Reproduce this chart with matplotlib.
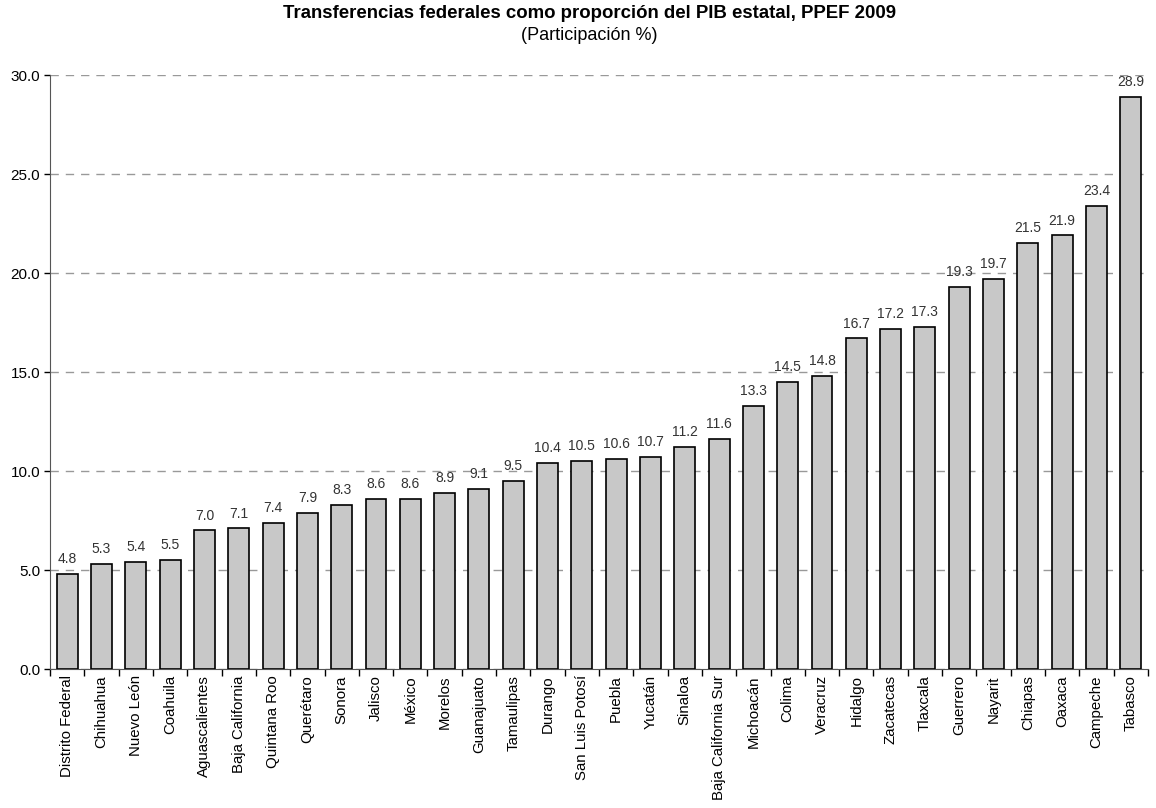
import numpy as np
import matplotlib.pyplot as plt
from matplotlib import font_manager

estados = ['Distrito Federal', 'Chihuahua', 'Nuevo León', 'Coahuila', 'Aguascalientes',
           'Baja California', 'Quintana Roo', 'Querétaro', 'Sonora', 'Jalisco', 'México',
           'Morelos', 'Guanajuato', 'Tamaulipas', 'Durango', 'San Luis Potosí', 'Puebla',
           'Yucatán', 'Sinaloa', 'Baja California Sur', 'Michoacán', 'Colima', 'Veracruz',
           'Hidalgo', 'Zacatecas', 'Tlaxcala', 'Guerrero', 'Nayarit', 'Chiapas', 'Oaxaca',
           'Campeche', 'Tabasco']
valores = [4.8, 5.3, 5.4, 5.5, 7.0, 7.1, 7.4, 7.9, 8.3, 8.6, 8.6, 8.9, 9.1, 9.5, 10.4,
           10.5, 10.6, 10.7, 11.2, 11.6, 13.3, 14.5, 14.8, 16.7, 17.2, 17.3, 19.3, 19.7,
           21.5, 21.9, 23.4, 28.9]

plt.rcParams['font.family'] = ['Liberation Sans', 'DejaVu Sans']

# fuente angosta para las etiquetas de valor si existe
nombres = {f.name for f in font_manager.fontManager.ttflist}
if 'Liberation Sans Narrow' in nombres:
    fuente_val = 'Liberation Sans Narrow'
    tam_val = 11
else:
    fuente_val = 'Liberation Sans'
    tam_val = 10

fig = plt.figure(figsize=(11.56, 8.08), dpi=100)
ax = fig.add_axes([0.0433, 0.172, 0.9497, 0.735])

x = np.arange(len(estados))
ax.bar(x, valores, width=0.61, color='#c8c8c8', edgecolor='black', linewidth=1.2, zorder=3)

for xi, v in zip(x, valores):
    ax.text(xi, v + 0.4, f'{v:.1f}', ha='center', va='bottom', fontsize=tam_val,
            color='#333333', family=fuente_val)

ax.set_xlim(-0.5, len(estados) - 0.5)
ax.set_ylim(0, 30)
ax.set_yticks(np.arange(0, 31, 5))
ax.set_yticklabels([f'{t:.1f}' for t in np.arange(0, 31, 5)], fontsize=11)
ax.yaxis.grid(True, linestyle=(0, (6, 5)), color='#999999', linewidth=1, zorder=0)
ax.tick_params(axis='y', direction='out', length=4, width=1, pad=3)

ax.set_xticks(x)
ax.set_xticklabels(estados, rotation=90, fontsize=10.8)
ax.set_xticks(np.arange(-0.5, len(estados), 1), minor=True)
ax.tick_params(axis='x', which='major', length=0, pad=4.5)
ax.tick_params(axis='x', which='minor', direction='out', length=5, width=1)

for s in ['top', 'right']:
    ax.spines[s].set_visible(False)
ax.spines['left'].set_color('#555555')
ax.spines['bottom'].set_color('#555555')

fig.text(0.51, 0.983, 'Transferencias federales como proporción del PIB estatal, PPEF 2009',
         ha='center', va='center', fontsize=13.4, fontweight='bold')
fig.text(0.51, 0.956, '(Participación %)', ha='center', va='center', fontsize=13)

plt.savefig('out.png', dpi=100)
